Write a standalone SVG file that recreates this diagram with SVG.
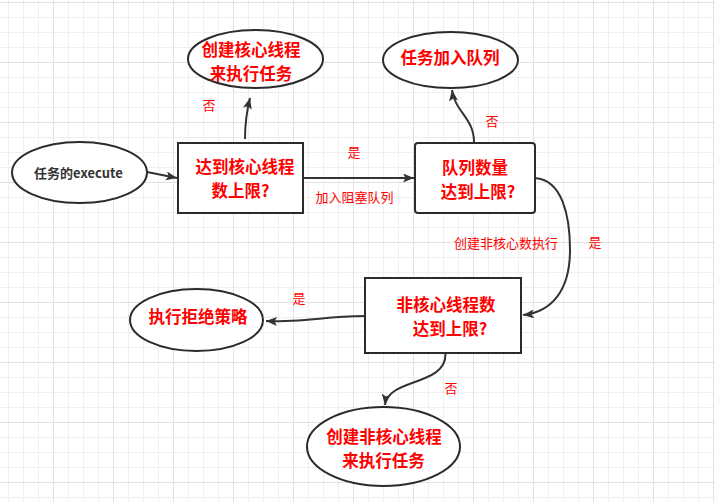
<svg xmlns="http://www.w3.org/2000/svg" width="715" height="502" viewBox="0 0 715 502">
<defs>
<pattern id="gMinor" width="15" height="15" patternUnits="userSpaceOnUse" x="8" y="2">
<rect width="1" height="15" fill="#efefef"/><rect width="15" height="1" fill="#efefef"/>
</pattern>
<pattern id="gMajor" width="60" height="60" patternUnits="userSpaceOnUse" x="53" y="2">
<rect width="1" height="60" fill="#e2e2e2"/><rect width="60" height="1" fill="#e2e2e2"/>
</pattern>
<marker id="arr" markerUnits="userSpaceOnUse" markerWidth="12" markerHeight="10" refX="11" refY="4.5" orient="auto">
<path d="M0,0 L11,4.5 L0,9 L2.5,4.5 z" fill="#333"/>
</marker>
</defs>
<style>
.shape{fill:#fff;stroke:#2b2b2b;stroke-width:2}
.big{font-family:"Noto Sans CJK SC","Liberation Sans",sans-serif;font-size:16.5px;font-weight:700;fill:#ff0000;text-anchor:middle}
.lbl{font-family:"Noto Sans CJK SC","Liberation Sans",sans-serif;font-size:13px;fill:#ff0000;text-anchor:middle}
.start{font-family:"Noto Sans CJK SC","Liberation Sans",sans-serif;font-size:13px;font-weight:700;fill:#333;text-anchor:middle}
.conn{fill:none;stroke:#333;stroke-width:2;marker-end:url(#arr)}
</style>
<rect width="715" height="502" fill="#fff"/>
<rect width="715" height="502" fill="url(#gMinor)"/>
<rect width="715" height="502" fill="url(#gMajor)"/>

<g id="connectors">
<path class="conn" d="M147,172 L177,178"/>
<path class="conn" d="M245,139 C245,125 247,110 250,98"/>
<path class="conn" d="M303,178 L414,178"/>
<path class="conn" d="M474,142 C474,118 455,112 452,90"/>
<path class="conn" d="M535,178 C562,180 570,215 570,250 C570,290 552,312 523,315"/>
<path class="conn" d="M365,316 C320,316 312,323 266,321"/>
<path class="conn" d="M445.5,354 C446,386 388,378 385,405"/>
<text class="lbl" x="209" y="109.5">否</text>
<text class="lbl" x="354" y="156.5">是</text>
<text class="lbl" x="354.5" y="201.5">加入阻塞队列</text>
<text class="lbl" x="492" y="125.5">否</text>
<text class="lbl" x="506" y="247.5">创建非核心数执行</text>
<text class="lbl" x="595" y="246.5">是</text>
<text class="lbl" x="299" y="302.5">是</text>
<text class="lbl" x="451" y="392.5">否</text>
</g>

<g id="start">
<ellipse class="shape" cx="79.5" cy="172.5" rx="67.5" ry="30.5"/>
<text class="start" x="78.5" y="177.5">任务的execute</text>
</g>
<g id="coreCheck">
<rect class="shape" x="178" y="143" width="125" height="70"/>
<text class="big"><tspan x="245" y="173">达到核心线程</tspan><tspan x="240.5" y="197">数上限?</tspan></text>
</g>
<g id="createCore">
<ellipse class="shape" cx="255.5" cy="59" rx="67.5" ry="29"/>
<text class="big"><tspan x="251" y="55.5">创建核心线程</tspan><tspan x="251" y="79.5">来执行任务</tspan></text>
</g>
<g id="queueCheck">
<rect class="shape" x="415" y="143" width="120" height="70" rx="3"/>
<text class="big"><tspan x="475" y="173.5">队列数量</tspan><tspan x="478" y="197.5">达到上限?</tspan></text>
</g>
<g id="addQueue">
<ellipse class="shape" cx="450.5" cy="60" rx="67.5" ry="28"/>
<text class="big" x="450" y="64">任务加入队列</text>
</g>
<g id="nonCoreCheck">
<rect class="shape" x="365" y="278" width="156" height="75"/>
<text class="big"><tspan x="446" y="310.5">非核心线程数</tspan><tspan x="450" y="334.5">达到上限?</tspan></text>
</g>
<g id="reject">
<ellipse class="shape" cx="196.5" cy="320" rx="66.5" ry="31"/>
<text class="big" x="198" y="323">执行拒绝策略</text>
</g>
<g id="createNonCore">
<ellipse class="shape" cx="383.5" cy="446.5" rx="76.5" ry="39.5"/>
<text class="big"><tspan x="384" y="442.5">创建非核心线程</tspan><tspan x="383.5" y="466.5">来执行任务</tspan></text>
</g>
</svg>
